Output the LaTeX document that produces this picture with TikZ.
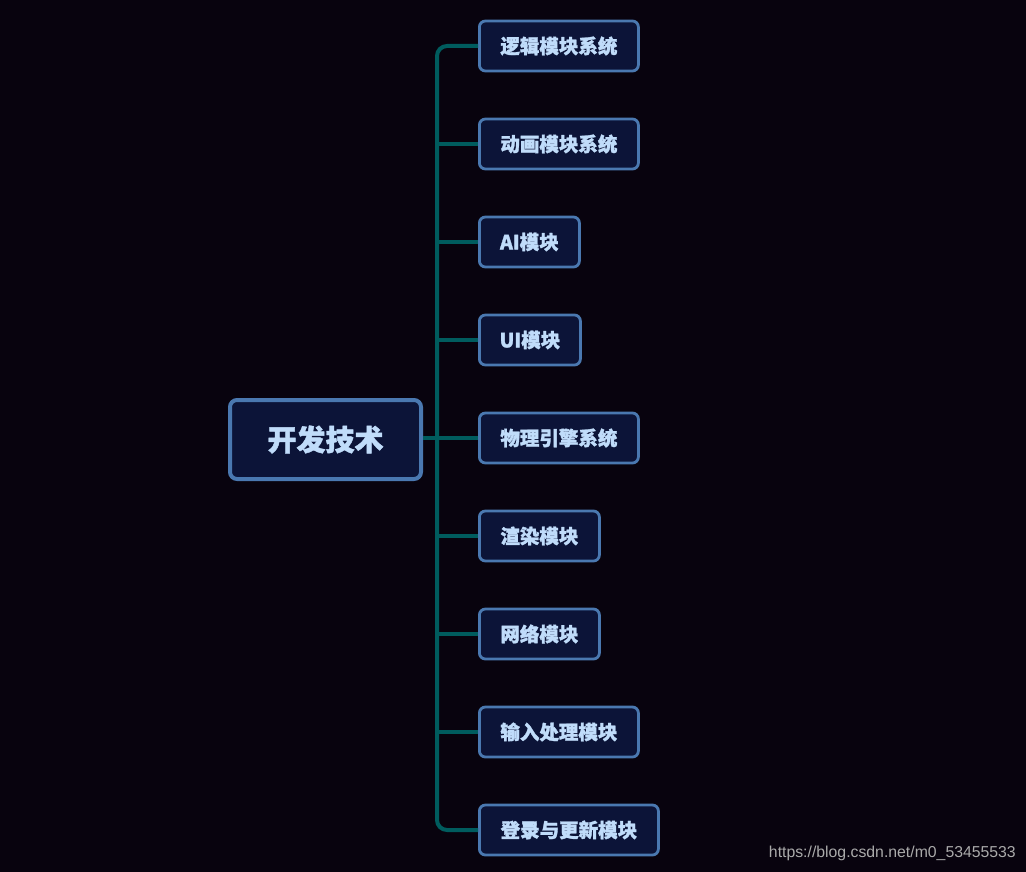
\documentclass[tikz,border=0pt]{standalone}
\usepackage{fontspec}
\setmainfont{Noto Sans CJK SC}[BoldFeatures={FakeBold=1.5}]
\newfontfamily\wmfont{Liberation Sans}
\definecolor{bg}{RGB}{8,3,14}
\definecolor{nodefill}{RGB}{12,20,56}
\definecolor{nodeborder}{RGB}{74,120,176}
\definecolor{nodetext}{RGB}{192,220,250}
\definecolor{conncol}{RGB}{0,92,94}
\definecolor{wmcol}{RGB}{170,170,170}
\tikzset{
  rootbox/.style={draw=nodeborder, fill=nodefill, line width=4pt, rounded corners=7pt,
    minimum width=191pt, minimum height=79pt, inner sep=0pt,
    text=nodetext, font=\fontsize{29}{34}\selectfont\bfseries},
  childbox/.style={draw=nodeborder, fill=nodefill, line width=2.8pt, rounded corners=6pt,
    minimum height=50pt, inner sep=0pt, anchor=west,
    text=nodetext, font=\fontsize{19.5}{23}\selectfont\bfseries},
  conn/.style={draw=conncol, line width=4pt}
}
\begin{document}
\begin{tikzpicture}[x=1pt,y=-1pt]
\useasboundingbox[fill=bg] (0,0) rectangle (1026,872);
\node[rootbox] (root) at (325.5,439.5) {开发技术};
\node[childbox, minimum width=159pt] (c1) at (478,46) {逻辑模块系统};
\node[childbox, minimum width=159pt] (c2) at (478,144) {动画模块系统};
\node[childbox, minimum width=100pt] (c3) at (478,242) {AI模块};
\node[childbox, minimum width=101pt] (c4) at (478,340) {UI模块};
\node[childbox, minimum width=159pt] (c5) at (478,438) {物理引擎系统};
\node[childbox, minimum width=120pt] (c6) at (478,536) {渲染模块};
\node[childbox, minimum width=120pt] (c7) at (478,634) {网络模块};
\node[childbox, minimum width=159pt] (c8) at (478,732) {输入处理模块};
\node[childbox, minimum width=179pt] (c9) at (478,830) {登录与更新模块};
\coordinate (tx) at (437,0);
\draw[conn, rounded corners=10pt] (c1.west) -- (c1.west -| tx) -- (c9.west -| tx) -- (c9.west);
\foreach \c in {c2,c3,c4,c5,c6,c7,c8} {
  \draw[conn] (\c.west) -- (\c.west -| tx);
}
\draw[conn] (root.east |- c5.west) -- (c5.west -| tx);
\node[anchor=east, text=wmcol, font=\wmfont\fontsize{15.8}{18}\selectfont, inner sep=0pt] (wm) at (1016,853) {https://blog.csdn.net/m0\_53455533};
\end{tikzpicture}
\end{document}
